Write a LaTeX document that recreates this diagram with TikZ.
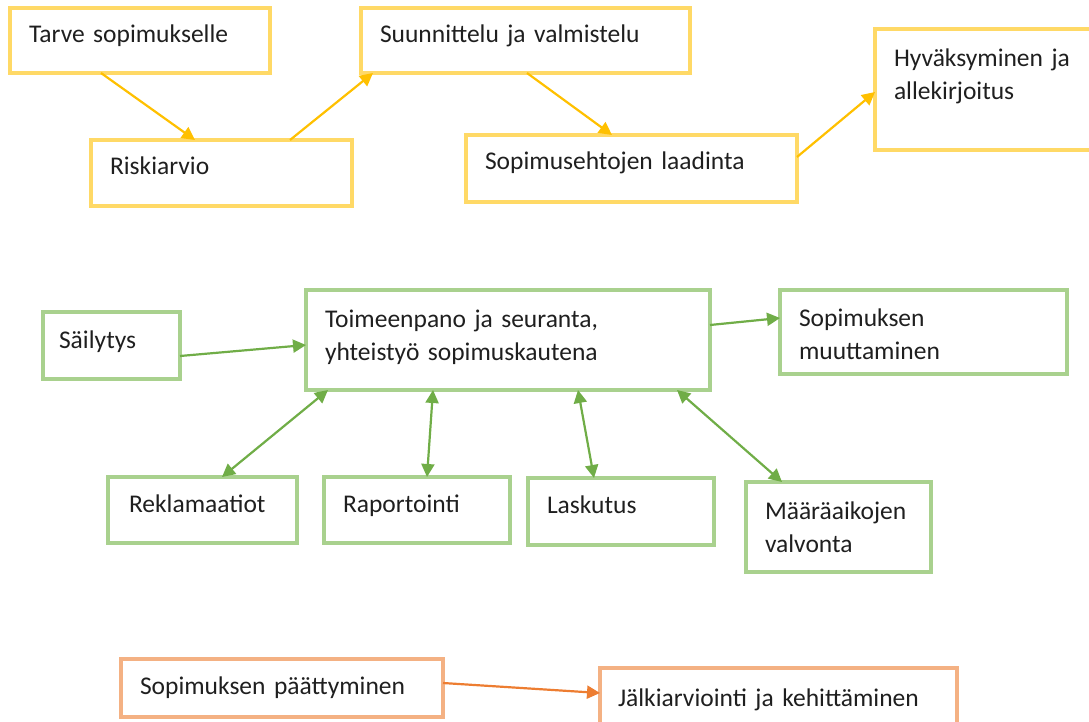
\documentclass[tikz,border=0pt]{standalone}
\usepackage{fontspec}
\setmainfont{Carlito}
\usetikzlibrary{arrows.meta,calc}
\definecolor{yb}{HTML}{FFD966}
\definecolor{ya}{HTML}{FFC000}
\definecolor{gb}{HTML}{A9D18E}
\definecolor{ga}{HTML}{70AD47}
\definecolor{ob}{HTML}{F4B183}
\definecolor{oa}{HTML}{ED7D31}
\newcommand{\boxfont}{\fontsize{25.5pt}{33pt}\selectfont}
\begin{document}
\begin{tikzpicture}[x=1pt,y=-1pt,
  box/.style={draw, line width=3.2pt, rectangle, anchor=north west, outer sep=0pt,
    inner xsep=19pt, inner ysep=0pt, align=left, font=\boxfont, text=black!88},
  ybox/.style={box, draw=yb},
  gbox/.style={box, draw=gb},
  obox/.style={box, draw=ob},
  conn/.style={line width=2.2pt, -{Triangle[length=13pt,width=13pt]}},
  bconn/.style={line width=2.2pt, {Triangle[length=13pt,width=13pt]}-{Triangle[length=13pt,width=13pt]}},
]
\useasboundingbox (0,0) rectangle (1089,722);
% yellow row
\node[ybox, text width=222pt, text height=35pt, text depth=30pt] (tarve) at (10,8) {Tarve sopimukselle};
\node[ybox, text width=223pt, text height=35pt, text depth=31pt] (risk) at (91,140) {Riskiarvio};
\node[ybox, text width=291pt, text height=35pt, text depth=30pt] (suun) at (361,8) {Suunnittelu ja valmistelu};
\node[ybox, text width=293pt, text height=35pt, text depth=32pt] (sopeht) at (466,135) {Sopimusehtojen laadinta};
\node[ybox, text width=202pt, text height=38pt, text depth=83pt] (hyv) at (875,29) {Hyväksyminen ja\\allekirjoitus};
% green
\node[gbox, inner xsep=16pt, text width=105pt, text height=36pt, text depth=31pt] (sail) at (43,312) {Säilytys};
\node[gbox, text width=366pt, text height=37pt, text depth=63pt] (toim) at (306,290) {Toimeenpano ja seuranta,\\yhteistyö sopimuskautena};
\node[gbox, text width=249pt, text height=36pt, text depth=48pt] (muut) at (780,290) {Sopimuksen\\muuttaminen};
\node[gbox, inner xsep=21pt, text width=147pt, text height=35pt, text depth=31pt] (rekl) at (108,477) {Reklamaatiot};
\node[gbox, text width=148pt, text height=35pt, text depth=31pt] (rap) at (324,477) {Raportointi};
\node[gbox, text width=148pt, text height=35pt, text depth=32pt] (lask) at (528,478) {Laskutus};
\node[gbox, text width=147pt, text height=37pt, text depth=53pt] (maar) at (746,482) {Määräaikojen\\valvonta};
% orange
\node[obox, text width=284pt, text height=35pt, text depth=23pt] (paat) at (121,659) {Sopimuksen päättyminen};
\node[obox, inner xsep=18pt, text width=321pt, text height=38pt, text depth=32pt] (jalk) at (600,668) {Jälkiarviointi ja kehittäminen};
% yellow arrows
\draw[conn, ya] ($(tarve.south west)+(91,0)$) -- ($(risk.north west)+(104,0)$);
\draw[conn, ya] ($(risk.north west)+(199,0)$) -- ($(suun.south west)+(12,0)$);
\draw[conn, ya] ($(suun.south west)+(166,0)$) -- ($(sopeht.north west)+(146,0)$);
\draw[conn, ya] ($(sopeht.north east)+(0,22)$) -- ($(hyv.north west)+(0,63)$);
% green arrows
\draw[conn, ga] ($(sail.north east)+(0,44)$) -- ($(toim.north west)+(0,55)$);
\draw[conn, ga] ($(toim.north east)+(0,35)$) -- ($(muut.north west)+(0,28)$);
\draw[bconn, ga] ($(rekl.north west)+(114,0)$) -- ($(toim.south west)+(22,0)$);
\draw[bconn, ga] ($(rap.north west)+(103,0)$) -- ($(toim.south west)+(127,0)$);
\draw[bconn, ga] ($(lask.north west)+(66,0)$) -- ($(toim.south west)+(272,0)$);
\draw[bconn, ga] ($(maar.north west)+(36,0)$) -- ($(toim.south west)+(371,0)$);
% orange arrow
\draw[conn, oa] ($(paat.north east)+(0,24)$) -- ($(jalk.north west)+(0,25)$);
\end{tikzpicture}
\end{document}
